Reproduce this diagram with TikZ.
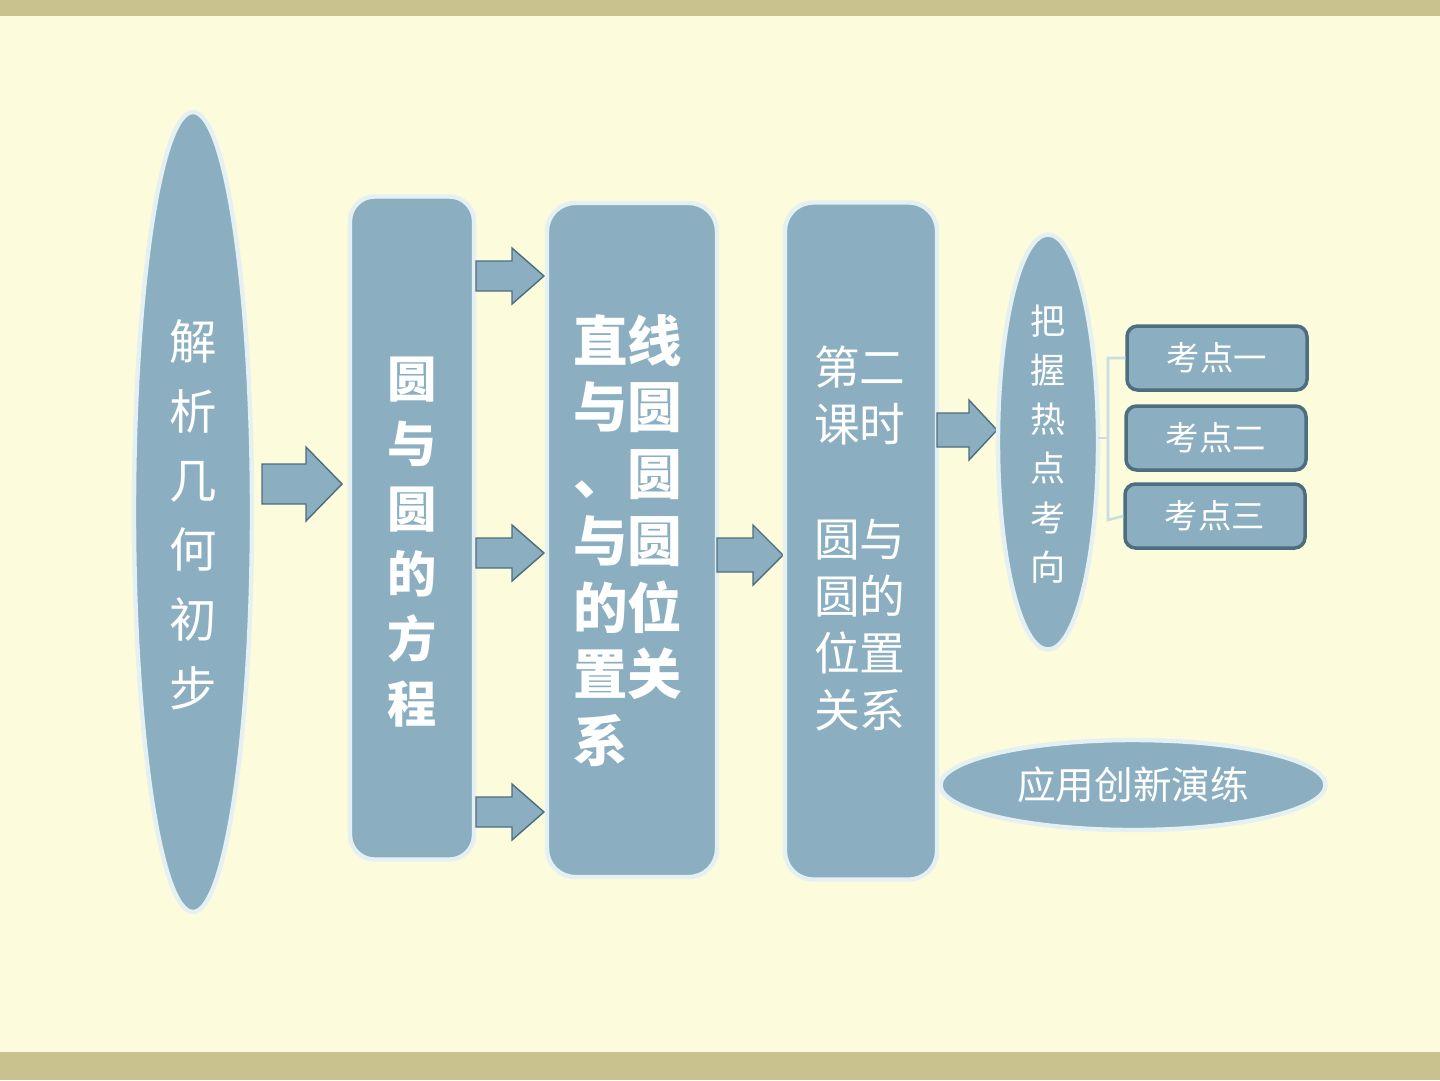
\documentclass[tikz,border=0pt]{standalone}
\usepackage{fontspec}
\setmainfont{Noto Sans CJK SC}
\usetikzlibrary{shapes.geometric}
\definecolor{bfill}{HTML}{8BAFC0}
\definecolor{bdark}{HTML}{4E6E80}
\definecolor{bgy}{HTML}{FCFBDC}
\definecolor{band}{HTML}{C9C28E}
\definecolor{glow}{HTML}{E4F0F2}
\tikzset{
 shp/.style={fill=bfill,draw=glow,line width=2.5pt},
 fat/.style={fill=bfill,draw=bdark,line width=0.8pt},
 txt/.style={text=white,align=center},
 kd/.style={fill=bfill,draw=bdark,line width=2pt,rounded corners=6pt,minimum width=180*0.02cm,minimum height=64*0.02cm,text=white,font=\fontsize{19}{22}\selectfont}
}
\newcommand{\myarrow}[6]{% x1 x2 y bodyhalf headhalf headlen
 \draw[fat] (#1,#3-#4) -- (#2-#6,#3-#4) -- (#2-#6,#3-#5) -- (#2,#3) -- (#2-#6,#3+#5) -- (#2-#6,#3+#4) -- (#1,#3+#4) -- cycle;}
\begin{document}
\begin{tikzpicture}[x=0.02cm,y=-0.02cm]
\useasboundingbox (0,0) rectangle (1440,1080);
\fill[bgy] (0,0) rectangle (1440,1080);
\fill[band] (0,0) rectangle (1440,16);
\fill[band] (0,1052) rectangle (1440,1080);
% ellipse 1
\node[shp,ellipse,minimum width=118*0.02cm,minimum height=800*0.02cm,inner sep=0] (e1) at (193,512) {};
\node[txt,font=\fontsize{27}{39.5}\selectfont] (t1) at (193,515) {解\\析\\几\\何\\初\\步};
\myarrow{262}{342}{484}{20}{37}{36}
% rect 2
\node[shp,rounded corners=14pt,minimum width=124*0.02cm,minimum height=663*0.02cm] (r2) at (412,528) {};
\node[txt,font=\bfseries\fontsize{28}{37}\selectfont] (t2) at (412,542) {圆\\与\\圆\\的\\方\\程};
\myarrow{476}{544}{276}{15}{28}{32}
\myarrow{476}{544}{553}{15}{28}{32}
\myarrow{476}{544}{812}{15}{28}{32}
% rect 3
\node[shp,rounded corners=16pt,minimum width=170*0.02cm,minimum height=674*0.02cm] (r3) at (632,540) {};
\node[text=white,align=left,font=\bfseries\fontsize{31}{38}\selectfont,anchor=north west] (t3) at (567,308) {直线\\与圆\\、圆\\与圆\\的位\\置关\\系};
\myarrow{717}{783}{555}{17}{30}{30}
% rect 4
\node[shp,rounded corners=16pt,minimum width=152*0.02cm,minimum height=677*0.02cm] (r4) at (861,541) {};
\node[text=white,align=left,font=\fontsize{26}{32.5}\selectfont,anchor=north west] (t4) at (808,340) {第二\\课时\\[32.5pt]圆与\\圆的\\位置\\关系};
\myarrow{937}{997}{430}{17}{30}{28}
% ellipse 5
\node[shp,ellipse,minimum width=100*0.02cm,minimum height=415*0.02cm,inner sep=0] (e5) at (1048,442) {};
\node[txt,font=\fontsize{20}{28}\selectfont] (t5) at (1048,444) {把\\握\\热\\点\\考\\向};
% boxes
\node[kd] (k1) at (1217,358) {考点一};
\node[kd] (k2) at (1216,438) {考点二};
\node[kd] (k3) at (1215,516) {考点三};
\draw[glow!70!bfill,line width=1.5pt] (k1.west) -- (1108,358) -- (1108,520) -- (k3.west);
\draw[glow!70!bfill,line width=1.5pt] (1098,438) -- (1108,438);
% bottom ellipse
\node[shp,ellipse,minimum width=385*0.02cm,minimum height=90*0.02cm,inner sep=0,txt,font=\fontsize{22}{26}\selectfont] (e6) at (1133,785) {应用创新演练};
\end{tikzpicture}
\end{document}
